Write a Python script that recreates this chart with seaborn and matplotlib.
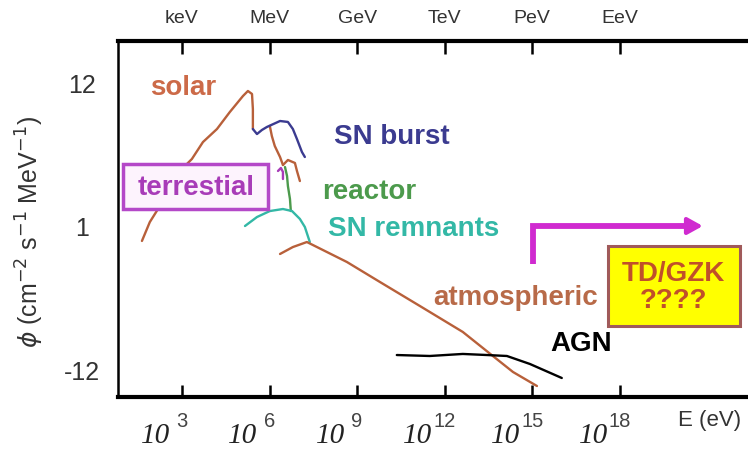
import matplotlib
matplotlib.use("Agg")
import matplotlib.pyplot as plt
import matplotlib.transforms as mtransforms
from matplotlib.patches import Rectangle
import seaborn as sns

# ---- data: x = log10(E / eV), y = log10(flux) ----
solar_x = [1.63, 1.90, 2.18, 2.49, 2.93, 3.34, 3.72, 4.20, 4.64, 5.09, 5.26, 5.40, 5.43, 5.43]
solar_y = [-1.29, 0.29, 1.38, 2.80, 4.56, 5.56, 6.98, 8.07, 9.49, 10.83, 11.25, 11.00, 9.74, 8.07]
solar_hep_x = [6.01, 6.08, 6.18, 6.36, 6.46]
solar_hep_y = [8.32, 7.48, 6.65, 5.73, 5.06]
solar_hook_x = [6.46, 6.63, 6.87, 6.94, 7.04]
solar_hook_y = [5.06, 5.48, 5.23, 4.56, 3.72]
snburst_x = [5.43, 5.57, 5.74, 5.91, 6.36, 6.63, 6.80, 6.94, 7.11, 7.21]
snburst_y = [8.07, 7.65, 7.99, 8.24, 8.74, 8.66, 8.07, 7.23, 6.15, 5.73]
reactor_x = [6.53, 6.60, 6.63, 6.70, 6.73]
reactor_y = [4.89, 4.14, 3.30, 2.22, 1.21]
snrem_x = [5.16, 5.57, 6.01, 6.46, 6.77, 7.04, 7.21, 7.38]
snrem_y = [-0.04, 0.71, 1.21, 1.38, 1.21, 0.55, -0.12, -1.38]
terr_x = [6.29, 6.39, 6.46, 6.46]
terr_y = [4.56, 4.81, 4.48, 3.89]
atmo_x = [6.36, 6.80, 7.28, 8.65, 9.78, 11.15, 12.62, 13.65, 14.34, 15.16]
atmo_y = [-2.38, -1.80, -1.38, -3.05, -4.72, -6.73, -8.90, -10.91, -12.25, -13.42]
agn_x = [10.36, 11.49, 12.62, 13.45, 14.13, 14.92, 16.01]
agn_y = [-10.83, -10.91, -10.74, -10.83, -10.91, -11.58, -12.75]

x_ticks = [3, 6, 9, 12, 15, 18]
x_exps = ["3", "6", "9", "12", "15", "18"]
top_units = ["keV", "MeV", "GeV", "TeV", "PeV", "EeV"]
y_ticks = [12, 6, 0, -6, -12]
y_labels = ["12", "", "1", "", "-12"]

# ---- style ----
sns.set_style("white")
plt.rcParams["font.family"] = ["Liberation Sans", "DejaVu Sans"]

BROWN = "#b8603a"
SOLAR_TXT = "#cc6a48"
BLUE = "#3b3b90"
GREEN = "#4c9a4c"
TEAL = "#33b8a6"
PURPLE = "#a83cb8"
MAGENTA = "#d02ad0"

fig = plt.figure(figsize=(7.48, 4.52), dpi=100)
ax = fig.add_axes([118 / 748, 54 / 452, 642 / 748, 356 / 452])

lw = 1.7
sns.lineplot(x=solar_x, y=solar_y, sort=False, estimator=None, color=BROWN, lw=lw, ax=ax, zorder=2)
sns.lineplot(x=solar_hep_x, y=solar_hep_y, sort=False, estimator=None, color=BROWN, lw=lw, ax=ax, zorder=2)
sns.lineplot(x=solar_hook_x, y=solar_hook_y, sort=False, estimator=None, color=BROWN, lw=lw, ax=ax, zorder=2)
sns.lineplot(x=snburst_x, y=snburst_y, sort=False, estimator=None, color=BLUE, lw=lw, ax=ax, zorder=2)
sns.lineplot(x=reactor_x, y=reactor_y, sort=False, estimator=None, color=GREEN, lw=lw, ax=ax, zorder=2)
sns.lineplot(x=snrem_x, y=snrem_y, sort=False, estimator=None, color=TEAL, lw=lw, ax=ax, zorder=2)
sns.lineplot(x=terr_x, y=terr_y, sort=False, estimator=None, color=PURPLE, lw=lw, ax=ax, zorder=2)
sns.lineplot(x=atmo_x, y=atmo_y, sort=False, estimator=None, color=BROWN, lw=lw, ax=ax, zorder=2)
sns.lineplot(x=agn_x, y=agn_y, sort=False, estimator=None, color="black", lw=lw, ax=ax, zorder=2)

ax.set_xlim(0.81, 22.8)
ax.set_ylim(-14.34, 15.43)

# spines
ax.spines["right"].set_visible(False)
for s, w in (("top", 3.0), ("bottom", 3.0), ("left", 1.8)):
    ax.spines[s].set_linewidth(w)
    ax.spines[s].set_color("black")

# bottom ticks: exponent as tick label, "10" base as text beside it
ax.set_xticks(x_ticks)
ax.set_xticklabels(x_exps)
ax.tick_params(axis="x", which="both", direction="in", top=True, bottom=True,
               length=9, width=1.8, labelsize=14.5, pad=10, colors="black",
               labelcolor="#444444")
base_off = mtransforms.ScaledTranslation(-0.12, 0, fig.dpi_scale_trans)
for t in x_ticks:
    ax.text(t, -0.143, "10", transform=ax.get_xaxis_transform() + base_off,
            ha="right", va="bottom", fontsize=21, family="Liberation Serif",
            style="italic", color="#222222", clip_on=False)

# left ticks
ax.set_yticks(y_ticks)
ax.set_yticklabels(y_labels)
ax.tick_params(axis="y", direction="in", length=7, width=1.5, labelsize=18, pad=26,
               labelcolor="#333333")
for lab in ax.get_yticklabels():
    lab.set_ha("center")

# top unit labels
sec = ax.secondary_xaxis("top")
sec.set_xticks(x_ticks)
sec.set_xticklabels(top_units)
sec.tick_params(length=0, pad=11, labelsize=14, labelcolor="#333333")
sec.spines["top"].set_visible(False)

# axis titles
fig.text(710 / 748, 1 - 421 / 452, "E (eV)", ha="center", va="center", fontsize=16, color="#333333")
fig.text(30 / 748, 1 - 232 / 452, r"$\phi$ (cm$^{-2}$ s$^{-1}$ MeV$^{-1}$)", rotation=90,
         ha="center", va="center", fontsize=18, color="#333333", math_fontfamily="dejavusans")

# annotations
tk = dict(ha="center", va="center", fontsize=20, fontweight="bold")
ax.text(3.03, 11.58, "solar", color=SOLAR_TXT, **tk)
ax.text(10.19, 7.49, "SN burst", color=BLUE, **tk)
ax.text(9.40, 2.89, "reactor", color=GREEN, **tk)
ax.text(10.95, -0.21, "SN remnants", color=TEAL, **tk)
ax.text(14.44, -5.98, "atmospheric", color="#b86a48", **tk)
ax.text(16.66, -9.82, "AGN", color="black", **tk)

ax.add_patch(Rectangle((0.98, 1.38), 5.95 - 0.98, 5.14 - 1.38, facecolor="#fdf3fd",
                       edgecolor="#b448c8", lw=2.5, zorder=3))
ax.text(3.47, 3.26, "terrestial", color=PURPLE, zorder=4, **tk)

ax.add_patch(Rectangle((17.59, -8.40), 22.11 - 17.59, 8.40 - 1.71, facecolor="#ffff00",
                       edgecolor="#a05a5a", lw=2.2, zorder=3))
ax.text(19.85, -5.06, "TD/GZK\n????", color="#c0502a", zorder=4, linespacing=1.05, **tk)

ax.plot([15.02, 15.02, 20.2], [-3.22, -0.04, -0.04], color=MAGENTA, lw=4.2,
        solid_joinstyle="miter", solid_capstyle="butt", zorder=3)
ax.annotate("", xy=(20.84, -0.04), xytext=(20.0, -0.04),
            arrowprops=dict(arrowstyle="-|>,head_length=0.9,head_width=0.5",
                            color=MAGENTA, lw=3, shrinkA=0, shrinkB=0), zorder=3)

fig.savefig("out.png", dpi=100, facecolor="white")
